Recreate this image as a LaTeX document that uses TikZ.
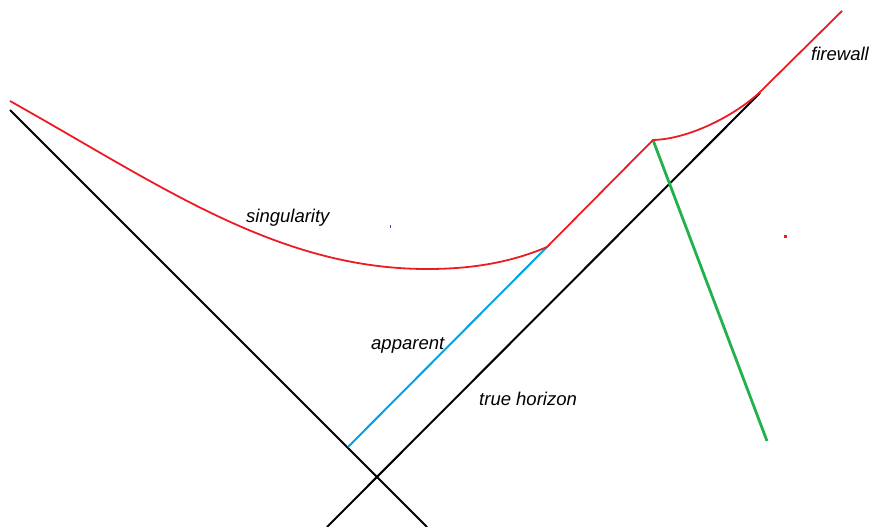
\documentclass[tikz,border=0pt]{standalone}
\usepackage{fontspec}
\setmainfont{Liberation Sans}
\definecolor{pred}{RGB}{237,28,36}
\definecolor{pblue}{RGB}{0,162,232}
\definecolor{pgreen}{RGB}{34,177,76}
\definecolor{dotblue}{RGB}{40,80,160}
\tikzset{
  blk/.style={draw=black,line width=2pt},
  redline/.style={draw=pred,line width=1.8pt},
  blueline/.style={draw=pblue,line width=2pt},
  greenline/.style={draw=pgreen,line width=2.8pt},
  lbl/.style={inner sep=0pt,font=\fontsize{18.5}{22}\selectfont\itshape}
}
\begin{document}
\begin{tikzpicture}[x=1pt,y=-1pt]
\useasboundingbox (0,0) rectangle (873,527);
% coordinates
\coordinate (b1s) at (10,110);
\coordinate (b1e) at (427,527);
\coordinate (b2s) at (327,527);
\coordinate (b2e) at (760,93);
\coordinate (rs) at (10,101);
\coordinate (rmin) at (427,269);
\coordinate (rj1) at (547,247);
\coordinate (rj2) at (653,140);
\coordinate (rj3) at (759,93);
\coordinate (rend) at (842,11);
\coordinate (bls) at (348,447);
\coordinate (gre) at (767,441);
% black lines
\draw[blk] (b1s) -- (b1e);
\draw[blk] (b2s) -- (b2e);
% blue apparent horizon
\draw[blueline] (bls) -- (rj1);
% green line
\draw[greenline] (rj2) -- (gre);
% red singularity / firewall
\draw[redline,line join=round] (rs) .. controls (160,185) and (277,269) .. (rmin)
  .. controls (467,269) and (507,264) .. (rj1) -- (rj2)
  .. controls (690,139) and (735,115) .. (rj3) -- (rend);
% stray dots
\fill[pred] (783.5,234.5) rectangle (786.5,237.5);
\fill[dotblue] (389.5,225) rectangle (391,227.5);
% labels
\node[lbl,anchor=base west] (lsing) at (246,222) {singularity};
\node[lbl,anchor=base west] (lapp) at (371,349) {apparent};
\node[lbl,anchor=base west] (ltrue) at (479,405) {true horizon};
\node[lbl,anchor=base west] (lfire) at (811,61) {firewall};
\end{tikzpicture}
\end{document}
